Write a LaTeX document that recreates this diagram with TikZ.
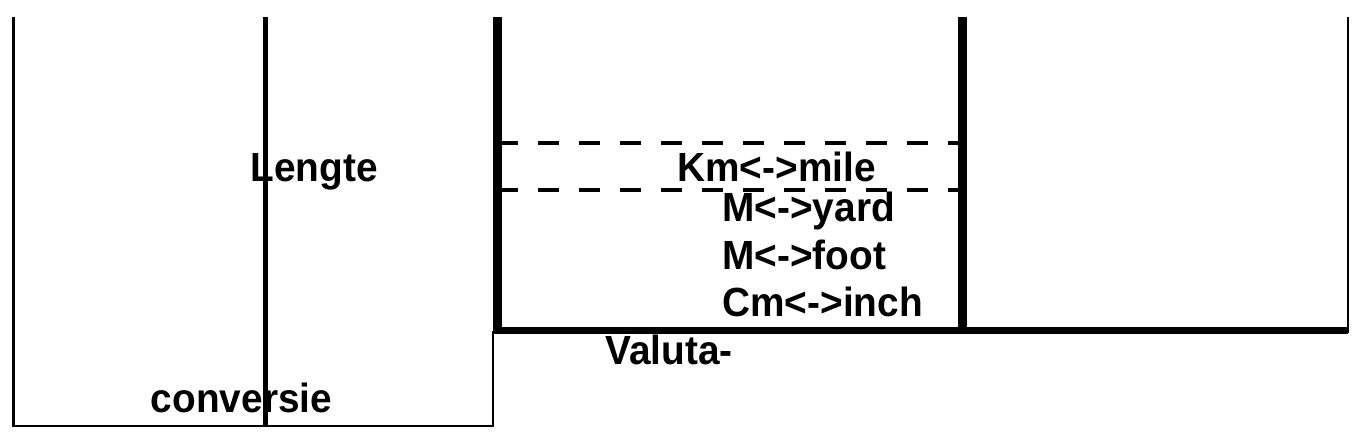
\documentclass[tikz,border=0pt]{standalone}
\usepackage{fontspec}
\setmainfont{Liberation Sans}
\newcommand{\tallt}[1]{\scalebox{1}[1.05]{#1}}
\begin{document}
\begin{tikzpicture}[x=0.5pt,y=-0.5pt,
  thinline/.style={line width=1.3pt},
  midline/.style={line width=2.5pt},
  thickv/.style={line width=4.5pt},
  thickh/.style={line width=3.5pt},
  dashline/.style={line width=1.7pt, dash pattern=on 10.5pt off 10pt},
  lbl/.style={font=\bfseries\fontsize{19.4}{23}\selectfont, anchor=base west, inner sep=0pt}]
\useasboundingbox (0,0) rectangle (1357,432);
% coordinates
\coordinate (lt) at (13.5,17);
\coordinate (lb) at (13.5,426);
\coordinate (rb) at (493,426);
\coordinate (rt) at (493,331);
\coordinate (mt) at (265,17);
\coordinate (mb) at (265,426);
\coordinate (at) at (497,17);
\coordinate (ab) at (497,331);
\coordinate (bt) at (962,17);
\coordinate (bb) at (962,331);
\coordinate (ct) at (1348,17);
\coordinate (cb) at (1348,331);
\coordinate (d1l) at (497,143);
\coordinate (d1r) at (962,143);
\coordinate (d2l) at (497,190);
\coordinate (d2r) at (962,190);
% lines
\draw[thinline] (lt) -- (lb) -- (rb) -- (rt);
\draw[midline] (mt) -- (mb);
\draw[thickv] (at) -- (ab);
\draw[thickv] (bt) -- (bb);
\draw[thickh] ([xshift=-2.25pt]ab) -- (cb);
\draw[thinline] (ct) -- ([yshift=-1pt]cb);
\draw[dashline] (d1l) -- (d1r);
\draw[dashline] (d2l) -- (d2r);
% labels
\node[lbl] (lengte) at (250,182) {\tallt{Lengte}};
\node[lbl] (conv) at (150.5,413) {\tallt{conversie}};
\node[lbl] (km) at (677,182) {\tallt{Km<->mile}};
\node[lbl] (yard) at (722,222) {\tallt{M<->yard}};
\node[lbl] (foot) at (722,270) {\tallt{M<->foot}};
\node[lbl] (inch) at (722,317) {\tallt{Cm<->inch}};
\node[lbl] (val) at (605,365) {\tallt{Valuta-}};
\end{tikzpicture}
\end{document}
